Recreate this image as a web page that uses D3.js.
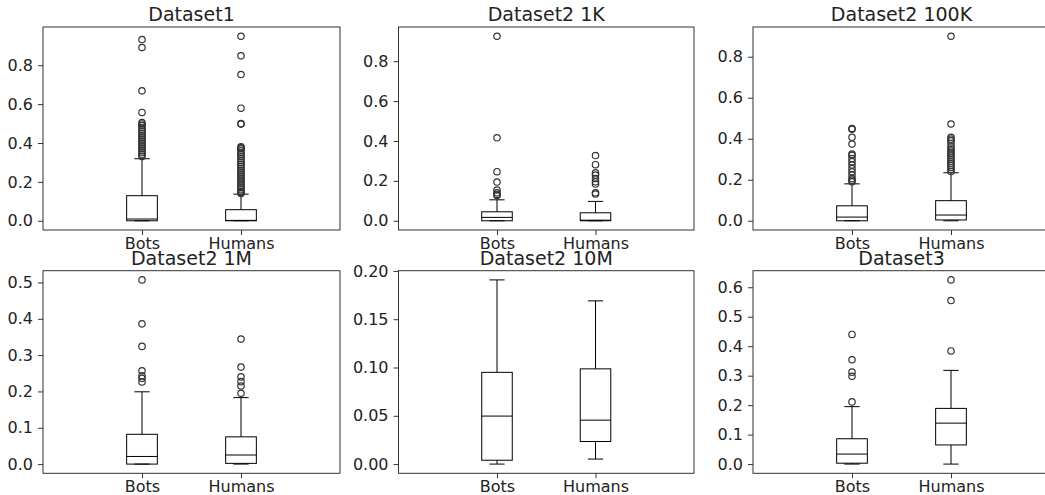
<!DOCTYPE html>
<html><head><meta charset="utf-8">
<script src="https://cdn.jsdelivr.net/npm/d3@7"></script>
<style>
body{margin:0;background:#fff}
svg{display:block}
text{font-family:"DejaVu Sans",sans-serif;fill:#222}
</style>
</head><body>
<svg id="chart" width="1045" height="495"></svg>
<script>
const categories = ["Bots", "Humans"];
const titles = ["Dataset1", "Dataset2 1K", "Dataset2 100K", "Dataset2 1M", "Dataset2 10M", "Dataset3"];

// box stats: [lower whisker, q1, median, q3, upper whisker]
const ds1Bots = [0, 0, 0.009, 0.129, 0.319];
const ds1Humans = [0, 0, 0.002, 0.057, 0.137];
const ds1BotsOut = [0.932, 0.891, 0.668, 0.557, 0.505, 0.498, 0.49, 0.48, 0.47, 0.46, 0.45, 0.44, 0.43, 0.42, 0.41, 0.40, 0.39, 0.38, 0.37, 0.36, 0.35, 0.34, 0.33];
const ds1HumansOut = [0.949, 0.848, 0.752, 0.579, 0.500, 0.497, 0.38, 0.375, 0.37, 0.36, 0.35, 0.34, 0.33, 0.32, 0.31, 0.30, 0.29, 0.28, 0.27, 0.26, 0.25, 0.24, 0.23, 0.22, 0.21, 0.20, 0.19, 0.18, 0.17, 0.16, 0.15, 0.145, 0.14];

const ds2kBots = [0, 0, 0.017, 0.045, 0.105];
const ds2kHumans = [0, 0, 0.003, 0.04, 0.097];
const ds2kBotsOut = [0.925, 0.416, 0.246, 0.194, 0.154, 0.14, 0.132, 0.127];
const ds2kHumansOut = [0.327, 0.281, 0.24, 0.229, 0.212, 0.195, 0.184, 0.14, 0.134];

const ds2hBots = [0, 0, 0.018, 0.073, 0.18];
const ds2hHumans = [0, 0.004, 0.028, 0.098, 0.234];
const ds2hBotsOut = [0.45, 0.446, 0.407, 0.374, 0.325, 0.319, 0.304, 0.288, 0.272, 0.255, 0.239, 0.223, 0.206, 0.198, 0.19];
const ds2hHumansOut = [0.90, 0.472, 0.407, 0.398, 0.39, 0.377, 0.36, 0.35, 0.34, 0.33, 0.32, 0.31, 0.30, 0.29, 0.28, 0.27, 0.26, 0.25, 0.24];

const ds2mBots = [0, 0, 0.021, 0.082, 0.199];
const ds2mHumans = [0, 0.002, 0.025, 0.075, 0.183];
const ds2mBotsOut = [0.507, 0.386, 0.324, 0.257, 0.243, 0.236, 0.226];
const ds2mHumansOut = [0.344, 0.267, 0.24, 0.227, 0.215, 0.195];

const ds2tBots = [0, 0.004, 0.0497, 0.095, 0.1907];
const ds2tHumans = [0.0052, 0.0234, 0.0455, 0.0986, 0.169];
const ds2tBotsOut = [];
const ds2tHumansOut = [];

const ds3Bots = [0, 0.003, 0.034, 0.086, 0.195];
const ds3Humans = [0, 0.065, 0.139, 0.189, 0.318];
const ds3BotsOut = [0.44, 0.354, 0.312, 0.298, 0.211];
const ds3HumansOut = [0.625, 0.555, 0.384];

const ticksA = [0, 0.2, 0.4, 0.6, 0.8];
const ticksM = [0, 0.1, 0.2, 0.3, 0.4, 0.5];
const ticksT = [0, 0.05, 0.10, 0.15, 0.20];
const ticksD3 = [0, 0.1, 0.2, 0.3, 0.4, 0.5, 0.6];

const panels = [
  {title: titles[0], boxes: [ds1Bots, ds1Humans], outs: [ds1BotsOut, ds1HumansOut], ticks: ticksA, fmt: ".1f", x0: 43, x1: 340, y0: 27, y1: 230},
  {title: titles[1], boxes: [ds2kBots, ds2kHumans], outs: [ds2kBotsOut, ds2kHumansOut], ticks: ticksA, fmt: ".1f", x0: 398.5, x1: 694, y0: 27, y1: 230},
  {title: titles[2], boxes: [ds2hBots, ds2hHumans], outs: [ds2hBotsOut, ds2hHumansOut], ticks: ticksA, fmt: ".1f", x0: 753, x1: 1050, y0: 27, y1: 230},
  {title: titles[3], boxes: [ds2mBots, ds2mHumans], outs: [ds2mBotsOut, ds2mHumansOut], ticks: ticksM, fmt: ".1f", x0: 43, x1: 340, y0: 270.7, y1: 473.3},
  {title: titles[4], boxes: [ds2tBots, ds2tHumans], outs: [ds2tBotsOut, ds2tHumansOut], ticks: ticksT, fmt: ".2f", x0: 398.5, x1: 694, y0: 270.7, y1: 473.3},
  {title: titles[5], boxes: [ds3Bots, ds3Humans], outs: [ds3BotsOut, ds3HumansOut], ticks: ticksD3, fmt: ".1f", x0: 753, x1: 1050, y0: 270.7, y1: 473.3}
];

const svg = d3.select("#chart");
const FS = 16;

panels.forEach(p => {
  const w = p.x1 - p.x0, h = p.y1 - p.y0;
  const g = svg.append("g").attr("transform", `translate(${p.x0},${p.y0})`);
  const allVals = [];
  p.boxes.forEach((b, i) => { allVals.push(b[0], b[4]); p.outs[i].forEach(v => allVals.push(v)); });
  const lo = d3.min(allVals), hi = d3.max(allVals);
  const pad = (hi - lo) * 0.05;
  const y = d3.scaleLinear().domain([lo - pad, hi + pad]).range([h, 0]);
  const x = d3.scaleLinear().domain([0, 3]).range([0, w]);
  const bw = x(0.31) - x(0), cw = x(0.155) - x(0);

  // y axis
  const ya = g.append("g").call(d3.axisLeft(y).tickValues(p.ticks).tickFormat(d3.format(p.fmt)).tickSize(5).tickPadding(5));
  ya.select(".domain").remove();
  ya.selectAll("line").attr("stroke", "#333");
  ya.selectAll("text").attr("font-size", FS).style("font-family", '"DejaVu Sans",sans-serif').attr("fill", "#222");

  // x axis
  const xa = g.append("g").attr("transform", `translate(0,${h})`)
    .call(d3.axisBottom(x).tickValues([1, 2]).tickFormat(d => categories[d - 1]).tickSize(5).tickPadding(3));
  xa.select(".domain").remove();
  xa.selectAll("line").attr("stroke", "#333");
  xa.selectAll("text").attr("font-size", FS).attr("y", 18.5).attr("dy", 0).style("font-family", '"DejaVu Sans",sans-serif').attr("fill", "#222");

  p.boxes.forEach((b, i) => {
    const cx = x(i + 1);
    const bg = g.append("g").attr("stroke", "#000").attr("stroke-width", 1).attr("fill", "none");
    bg.append("line").attr("x1", cx).attr("x2", cx).attr("y1", y(b[0])).attr("y2", y(b[1]));
    bg.append("line").attr("x1", cx).attr("x2", cx).attr("y1", y(b[3])).attr("y2", y(b[4]));
    bg.append("line").attr("x1", cx - cw / 2).attr("x2", cx + cw / 2).attr("y1", y(b[0])).attr("y2", y(b[0]));
    bg.append("line").attr("x1", cx - cw / 2).attr("x2", cx + cw / 2).attr("y1", y(b[4])).attr("y2", y(b[4]));
    bg.append("rect").attr("x", cx - bw / 2).attr("width", bw).attr("y", y(b[3])).attr("height", y(b[1]) - y(b[3]));
    bg.append("line").attr("x1", cx - bw / 2).attr("x2", cx + bw / 2).attr("y1", y(b[2])).attr("y2", y(b[2]));
    bg.selectAll("circle").data(p.outs[i]).join("circle")
      .attr("cx", cx).attr("cy", d => y(d)).attr("r", 3.2)
      .attr("stroke", "#333").attr("stroke-width", 1.2).attr("fill", "none");
  });

  g.append("rect").attr("x", 0).attr("y", 0).attr("width", w).attr("height", h)
    .attr("fill", "none").attr("stroke", "#333").attr("stroke-width", 1);

  g.append("text").attr("x", w / 2).attr("y", -6).attr("text-anchor", "middle")
    .attr("font-size", 19).text(p.title);
});
</script>
</body></html>
